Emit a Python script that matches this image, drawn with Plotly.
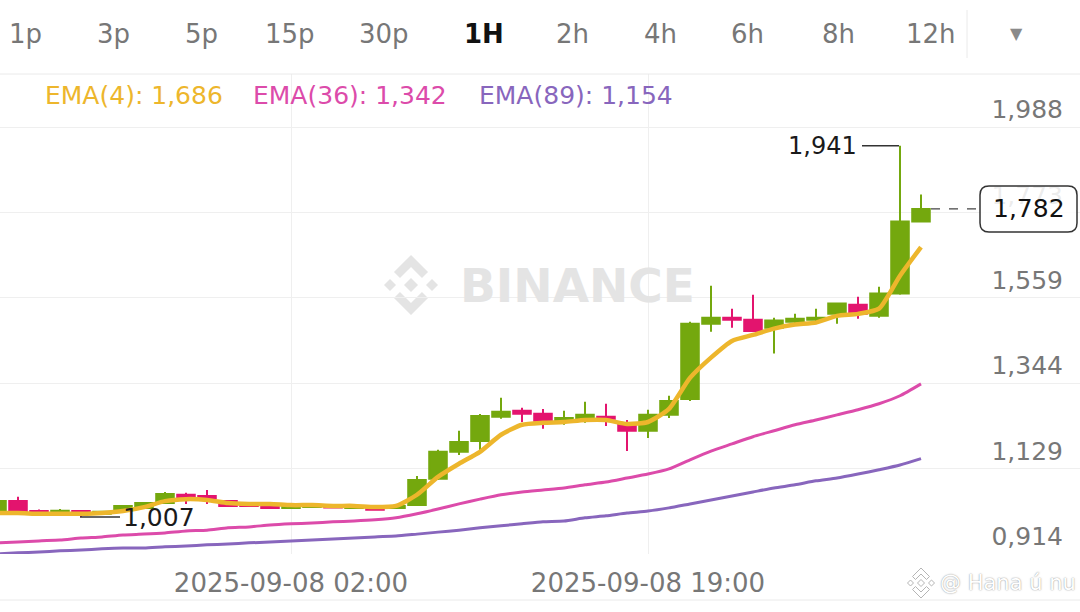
import pandas as pd
import plotly.graph_objects as go

# ── canvas / plot area (px) ───────────────────────────────────────────────────
W, H = 1080, 612
TOP, BOTTOM = 74, 554

# ── data ──────────────────────────────────────────────────────────────────────
TIMES = pd.date_range("2025-09-07 12:00", periods=45, freq="h")

OPEN = [1.020, 1.047, 1.022, 1.020, 1.022, 1.015, 1.027, 1.030, 1.042, 1.063,
        1.060, 1.047, 1.040, 1.035, 1.030, 1.032, 1.034, 1.030, 1.030, 1.030,
        1.037, 1.103, 1.171, 1.198, 1.259, 1.274, 1.267, 1.246, 1.256, 1.259,
        1.241, 1.224, 1.264, 1.304, 1.493, 1.508, 1.503, 1.483, 1.498, 1.503,
        1.518, 1.541, 1.513, 1.569, 1.750]
HIGH = [1.052, 1.058, 1.026, 1.027, 1.024, 1.023, 1.037, 1.045, 1.070, 1.068,
        1.075, 1.050, 1.042, 1.037, 1.037, 1.036, 1.036, 1.035, 1.037, 1.037,
        1.110, 1.176, 1.224, 1.266, 1.307, 1.282, 1.279, 1.274, 1.297, 1.292,
        1.251, 1.277, 1.312, 1.498, 1.589, 1.531, 1.566, 1.508, 1.518, 1.531,
        1.546, 1.561, 1.586, 1.941, 1.818]
LOW = [1.017, 1.020, 1.016, 1.016, 1.007, 1.012, 1.024, 1.028, 1.040, 1.040,
       1.040, 1.032, 1.033, 1.028, 1.028, 1.030, 1.029, 1.027, 1.023, 1.028,
       1.035, 1.100, 1.163, 1.171, 1.254, 1.246, 1.229, 1.239, 1.244, 1.236,
       1.173, 1.206, 1.256, 1.299, 1.473, 1.483, 1.475, 1.418, 1.493, 1.493,
       1.493, 1.506, 1.508, 1.566, 1.748]
CLOSE = [1.047, 1.022, 1.020, 1.023, 1.015, 1.020, 1.035, 1.042, 1.065, 1.055,
         1.055, 1.035, 1.035, 1.030, 1.035, 1.034, 1.031, 1.031, 1.025, 1.035,
         1.100, 1.171, 1.196, 1.261, 1.272, 1.267, 1.249, 1.256, 1.264, 1.254,
         1.224, 1.264, 1.299, 1.493, 1.508, 1.503, 1.475, 1.501, 1.506, 1.508,
         1.544, 1.518, 1.569, 1.750, 1.782]

EMA4 = [1.017, 1.017, 1.015, 1.015, 1.015, 1.017, 1.022, 1.032, 1.047, 1.052,
        1.050, 1.042, 1.040, 1.040, 1.037, 1.037, 1.035, 1.035, 1.032, 1.035,
        1.063, 1.108, 1.141, 1.171, 1.214, 1.239, 1.244, 1.246, 1.251, 1.251,
        1.241, 1.246, 1.279, 1.357, 1.408, 1.450, 1.465, 1.481, 1.491, 1.496,
        1.513, 1.518, 1.531, 1.614, 1.686]
EMA36 = [0.942, 0.944, 0.947, 0.949, 0.954, 0.957, 0.962, 0.964, 0.967, 0.972,
         0.974, 0.980, 0.982, 0.987, 0.990, 0.992, 0.995, 0.997, 1.000, 1.005,
         1.015, 1.027, 1.040, 1.052, 1.063, 1.070, 1.075, 1.080, 1.088, 1.095,
         1.105, 1.115, 1.128, 1.151, 1.173, 1.191, 1.209, 1.224, 1.239, 1.251,
         1.264, 1.277, 1.292, 1.312, 1.342]
EMA89 = [0.914, 0.917, 0.919, 0.922, 0.924, 0.927, 0.929, 0.929, 0.932, 0.934,
         0.937, 0.939, 0.942, 0.944, 0.947, 0.949, 0.952, 0.954, 0.957, 0.959,
         0.964, 0.969, 0.974, 0.980, 0.985, 0.990, 0.995, 0.997, 1.005, 1.010,
         1.017, 1.022, 1.030, 1.040, 1.050, 1.060, 1.070, 1.080, 1.088, 1.098,
         1.105, 1.115, 1.126, 1.138, 1.154]

X_TICKS = ["2025-09-08 02:00", "2025-09-08 19:00"]
Y_TICKS = [0.914, 1.129, 1.344, 1.559, 1.773, 1.988]

TIMEFRAMES = ["1p", "3p", "5p", "15p", "30p", "1H", "2h", "4h", "6h", "8h", "12h"]
ACTIVE_TF = "1H"

# ── colours / fonts ───────────────────────────────────────────────────────────
GREEN = "#74A80E"
RED = "#E3146E"
C_EMA4 = "#EDB62C"
C_EMA36 = "#DC4BAA"
C_EMA89 = "#8866BD"
GRID = "#EFEFEF"
FONT = "DejaVu Sans"

# ── helpers: px → paper / axis units ──────────────────────────────────────────
Y0 = Y_TICKS[0]
PX_PER_UNIT = (BOTTOM - 127) / (Y_TICKS[-1] - Y_TICKS[0])
Y1 = Y0 + (BOTTOM - TOP) / PX_PER_UNIT


def fx(x):
    return x / W


def fy(y):
    return (BOTTOM - y) / (BOTTOM - TOP)


def val_to_px(v):
    return BOTTOM - (v - Y0) * PX_PER_UNIT


def fmt(v):
    return f"{v:.3f}".replace(".", ",")


def logo_shapes(cx, cy, s, fill, line_color=None):
    """Binance diamond logo as a list of path shapes (pixel units scaled by s)."""
    pieces = [
        [(0, -7), (7, 0), (0, 7), (-7, 0)],
        [(-21, -6), (-15, 0), (-21, 6), (-27, 0)],
        [(21, -6), (27, 0), (21, 6), (15, 0)],
        [(0, -30), (17, -13), (11, -7), (0, -18), (-11, -7), (-17, -13)],
        [(0, 30), (17, 13), (11, 7), (0, 18), (-11, 7), (-17, 13)],
    ]
    out = []
    for pts in pieces:
        d = "M " + " L ".join(f"{fx(cx + s * px):.5f},{fy(cy + s * py):.5f}" for px, py in pts) + " Z"
        out.append(dict(type="path", path=d, xref="paper", yref="paper",
                        fillcolor=fill, layer="below",
                        line=dict(color=line_color or fill, width=1 if line_color else 0)))
    return out


# ── figure ────────────────────────────────────────────────────────────────────
fig = go.Figure()

fig.add_trace(go.Candlestick(
    x=TIMES, open=OPEN, high=HIGH, low=LOW, close=CLOSE,
    increasing=dict(line=dict(color=GREEN, width=2), fillcolor=GREEN),
    decreasing=dict(line=dict(color=RED, width=2), fillcolor=RED),
    whiskerwidth=0, showlegend=False, hoverinfo="skip",
))

for vals, color, width in [(EMA89, C_EMA89, 3), (EMA36, C_EMA36, 3), (EMA4, C_EMA4, 4.5)]:
    fig.add_trace(go.Scatter(
        x=TIMES, y=vals, mode="lines",
        line=dict(color=color, width=width, shape="spline", smoothing=0.6),
        showlegend=False, hoverinfo="skip",
    ))

shapes = []
ann = []

# separators of the header / footer
shapes.append(dict(type="line", xref="paper", yref="paper", x0=0, x1=1,
                   y0=fy(TOP), y1=fy(TOP), line=dict(color="#EAEAEA", width=1)))
shapes.append(dict(type="line", xref="paper", yref="paper", x0=0, x1=1,
                   y0=fy(600), y1=fy(600), line=dict(color="#EAEAEA", width=1)))
shapes.append(dict(type="line", xref="paper", yref="paper", x0=fx(967), x1=fx(967),
                   y0=fy(10), y1=fy(58), line=dict(color="#EAEAEA", width=1)))

# timeframe bar
tf_x = [25, 113, 201, 290, 384, 484, 572, 660, 748, 838, 931]
for name, cx in zip(TIMEFRAMES, tf_x):
    active = name == ACTIVE_TF
    ann.append(dict(text=name, xref="paper", yref="paper", x=fx(cx), y=fy(34),
                    showarrow=False, xanchor="center", yanchor="middle",
                    font=dict(family=FONT, size=26, color="#111" if active else "#777",
                              weight=600 if active else 400)))
ann.append(dict(text="▼", xref="paper", yref="paper", x=fx(1025), y=fy(22),
                showarrow=False, font=dict(family=FONT, size=16, color="#8A8A8A")))

# EMA legend
legend_items = [(f"EMA(4): {fmt(EMA4[-1])}", C_EMA4, 43),
                (f"EMA(36): {fmt(EMA36[-1])}", C_EMA36, 251),
                (f"EMA(89): {fmt(EMA89[-1])}", C_EMA89, 477)]
for txt, color, x0 in legend_items:
    ann.append(dict(text=txt, xref="paper", yref="paper", x=fx(x0), y=fy(96),
                    showarrow=False, xanchor="left", yanchor="middle",
                    font=dict(family=FONT, size=25, color=color)))

# BINANCE watermark
shapes += logo_shapes(411, 285, 1.0, "#E4E4E4")
ann.append(dict(text="BINANCE", xref="paper", yref="paper", x=fx(458), y=fy(285),
                showarrow=False, xanchor="left", yanchor="middle",
                font=dict(family=FONT, size=47, color="#E4E4E4", weight=700)))

# highest / lowest markers
hi = max(HIGH)
lo = min(LOW)
shapes.append(dict(type="line", xref="paper", yref="y", x0=fx(862), x1=fx(899),
                   y0=hi, y1=hi, line=dict(color="#333", width=1.5)))
ann.append(dict(text=fmt(hi), xref="paper", yref="y", x=fx(859), y=hi,
                showarrow=False, xanchor="right", yanchor="middle",
                font=dict(family=FONT, size=24, color="#1A1A1A")))
shapes.append(dict(type="line", xref="paper", yref="y", x0=fx(80), x1=fx(120),
                   y0=lo, y1=lo, line=dict(color="#333", width=1.5)))
ann.append(dict(text=fmt(lo), xref="paper", yref="y", x=fx(121), y=lo,
                showarrow=False, xanchor="left", yanchor="middle",
                font=dict(family=FONT, size=25, color="#1A1A1A")))

# last price line + tag
last = CLOSE[-1]
shapes.append(dict(type="line", xref="paper", yref="y", x0=fx(931), x1=fx(980),
                   y0=last, y1=last, line=dict(color="#444", width=1.2, dash="dash")))
cy = val_to_px(last)
bx0, bx1, by0, by1 = fx(980), fx(1077), fy(cy + 23), fy(cy - 23)
rx, ry = fx(9), 9 / (BOTTOM - TOP)
tag = (f"M {bx0 + rx},{by1} L {bx1 - rx},{by1} Q {bx1},{by1} {bx1},{by1 - ry} "
       f"L {bx1},{by0 + ry} Q {bx1},{by0} {bx1 - rx},{by0} L {bx0 + rx},{by0} "
       f"Q {bx0},{by0} {bx0},{by0 + ry} L {bx0},{by1 - ry} Q {bx0},{by1} {bx0 + rx},{by1} Z")
shapes.append(dict(type="path", path=tag, xref="paper", yref="paper", layer="above",
                   fillcolor="rgba(255,255,255,0.86)", line=dict(color="#333", width=1.5)))
ann.append(dict(text=fmt(last), xref="paper", yref="y", x=(bx0 + bx1) / 2, y=last,
                showarrow=False, xanchor="center", yanchor="middle",
                font=dict(family=FONT, size=25, color="#111")))

# author watermark bottom right
shapes += logo_shapes(921, 583, 0.5, "#FFFFFF", "#B5B5B5")
ann.append(dict(text="@ Hana ú nu", xref="paper", yref="paper", x=fx(938), y=fy(583),
                showarrow=False, xanchor="left", yanchor="middle",
                font=dict(family=FONT, size=21, color="#FFFFFF",
                          shadow="0px 0px 1.5px #777")))

x_left = TIMES[0] + pd.Timedelta(hours=3 / 21)
x_right = TIMES[0] + pd.Timedelta(hours=(W + 3) / 21)

fig.update_layout(
    width=W, height=H, autosize=False,
    margin=dict(l=0, r=0, t=TOP, b=H - BOTTOM, pad=0),
    paper_bgcolor="white", plot_bgcolor="white",
    separators=",.",
    boxgap=0.12, boxgroupgap=0.05,
    showlegend=False,
    shapes=shapes, annotations=ann,
    xaxis=dict(
        type="date", range=[x_left, x_right],
        tickvals=X_TICKS, tickformat="%Y-%m-%d %H:%M",
        showgrid=True, gridcolor=GRID, gridwidth=1,
        zeroline=False, showline=False,
        ticks="outside", ticklen=6, tickcolor="rgba(0,0,0,0)",
        tickfont=dict(family=FONT, size=26, color="#777"),
        rangeslider=dict(visible=False), fixedrange=True,
    ),
    yaxis=dict(
        side="right", range=[Y0, Y1],
        tickvals=Y_TICKS, tickformat=".3f",
        ticklabelposition="inside top", ticklabelstandoff=14,
        showgrid=True, gridcolor=GRID, gridwidth=1,
        zeroline=False, showline=False,
        tickfont=dict(family=FONT, size=25, color="#777"),
        fixedrange=True,
    ),
)

fig.write_html(
    "out.html",
    config={"displayModeBar": False},
    post_script="document.body.style.margin='0';document.body.style.padding='0';",
)
